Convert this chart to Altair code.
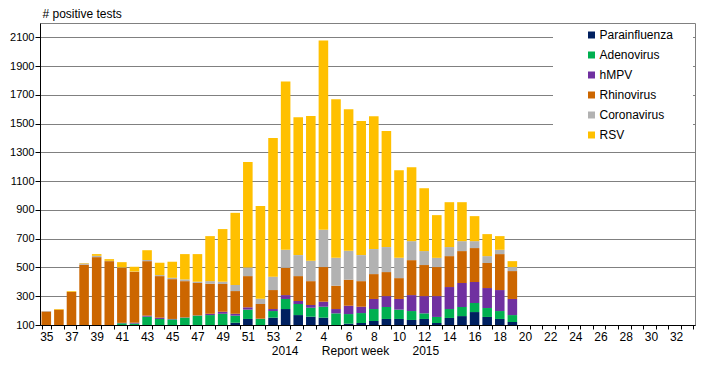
import altair as alt
import pandas as pd

# categories (report weeks 2014 w35 .. 2015 w33)
weeks = [str(w) for w in range(35, 54)] + [str(w) for w in range(1, 34)]
bar_weeks = [str(w) for w in range(35, 54)] + [str(w) for w in range(1, 20)]

series = ["Parainfluenza", "Adenovirus", "hMPV", "Rhinovirus", "Coronavirus", "RSV"]
colors = ["#002060", "#00B050", "#7030A0", "#CC6600", "#B2B2B2", "#FFC000"]

parainfluenza = [20, 20, 20, 20, 20, 25, 30, 30, 40, 40, 40, 50, 50, 60, 80, 116, 142, 80, 151,
                 211, 169, 158, 151, 90, 109, 114, 128, 142, 142, 135, 142, 114, 149, 162, 190, 156, 142, 121]
adenovirus = [20, 20, 20, 25, 30, 35, 82, 80, 118, 102, 99, 101, 115, 109, 98, 49, 65, 62, 46,
              70, 77, 62, 76, 91, 67, 69, 83, 83, 65, 62, 39, 42, 62, 63, 63, 62, 55, 48]
hmpv = [5, 5, 5, 5, 5, 5, 3, 6, 7, 9, 3, 2, 2, 9, 14, 13, 16, 2, 14,
        27, 21, 19, 35, 30, 58, 44, 70, 76, 74, 111, 120, 145, 153, 167, 146, 139, 146, 112]
rhinovirus = [149, 162, 285, 469, 517, 479, 383, 354, 379, 289, 277, 252, 225, 209, 193, 158, 217, 102, 132,
              190, 173, 166, 241, 162, 181, 178, 173, 167, 145, 243, 216, 202, 215, 222, 236, 174, 250, 194]
coronavirus = [3, 0, 1, 9, 9, 2, 2, 2, 8, 7, 9, 12, 9, 18, 16, 42, 60, 37, 93,
               125, 146, 142, 259, 194, 201, 181, 174, 174, 141, 132, 97, 64, 63, 69, 48, 48, 30, 28]
rsv = [0, 4, 5, 3, 12, 12, 37, 33, 68, 86, 112, 176, 192, 313, 366, 502, 734, 645, 965,
       1171, 958, 1006, 1317, 1102, 984, 933, 923, 807, 609, 514, 437, 297, 312, 271, 174, 153, 95, 41]

y_ticks = list(range(100, 2101, 200))

values_by_series = [parainfluenza, adenovirus, hmpv, rhinovirus, coronavirus, rsv]
rows = []
for k, (name, vals) in enumerate(zip(series, values_by_series)):
    for w, v in zip(bar_weeks, vals):
        rows.append({"week": w, "series": name, "value": v, "ord": k})
df = pd.DataFrame(rows)

font = "Liberation Sans"
x_title = "2014" + "\u00a0" * 7 + "Report week" + "\u00a0" * 7 + "2015"
label_expr = ("(toNumber(datum.value) >= 35 ? toNumber(datum.value) % 2 == 1 : "
              "toNumber(datum.value) % 2 == 0) ? datum.value : ''")

bars = alt.Chart(df).mark_bar(clip=True).encode(
    x=alt.X("week:N",
            scale=alt.Scale(domain=weeks, paddingInner=0.24, paddingOuter=0.12),
            axis=alt.Axis(title=x_title, labelExpr=label_expr, tickBand="extent",
                          tickSize=4, labelAngle=0, labelPadding=2,
                          domainColor="black", tickColor="black", labelColor="black",
                          labelFont=font, labelFontSize=12, titleFont=font,
                          titleFontSize=12, titleFontWeight="normal", titleColor="black",
                          titleX=315, titleY=29, titleAlign="center",
                          titleBaseline="alphabetic", grid=False, zindex=1)),
    y=alt.Y("value:Q", stack="zero",
            scale=alt.Scale(domain=[100, 2200], zero=False, nice=False),
            axis=alt.Axis(values=y_ticks, format="d", grid=True, gridColor="#808080",
                          domainColor="black", tickColor="black", tickSize=5,
                          labelColor="black", labelFont=font, labelFontSize=11,
                          labelPadding=1,
                          title="# positive tests", titleAngle=0, titleX=2, titleY=-6,
                          titleAlign="left", titleBaseline="alphabetic",
                          titleFont=font, titleFontSize=12, titleFontWeight="normal",
                          titleColor="black")),
    color=alt.Color("series:N",
                    scale=alt.Scale(domain=series, range=colors),
                    legend=alt.Legend(orient="none", legendX=545.5, legendY=6,
                                      title=None, symbolType="square", symbolSize=49,
                                      symbolStrokeWidth=0, labelFont=font,
                                      labelFontSize=12, labelColor="black",
                                      rowPadding=8, labelOffset=2, padding=0)),
    order=alt.Order("ord:Q", sort="ascending"),
)

legend_bg = alt.Chart(pd.DataFrame({"k": [0]})).mark_rect(color="white").encode(
    x=alt.value(513), x2=alt.value(653), y=alt.value(1), y2=alt.value(118)
)

chart = alt.layer(bars, legend_bg).properties(
    width=655, height=302,
    padding={"left": 32, "top": 15, "right": 11, "bottom": 32},
    autosize=alt.AutoSizeParams(type="none"),
    background="white",
).configure_view(stroke="#808080", strokeWidth=1)

chart.save("out.html", embed_options={"renderer": "svg", "actions": False})
